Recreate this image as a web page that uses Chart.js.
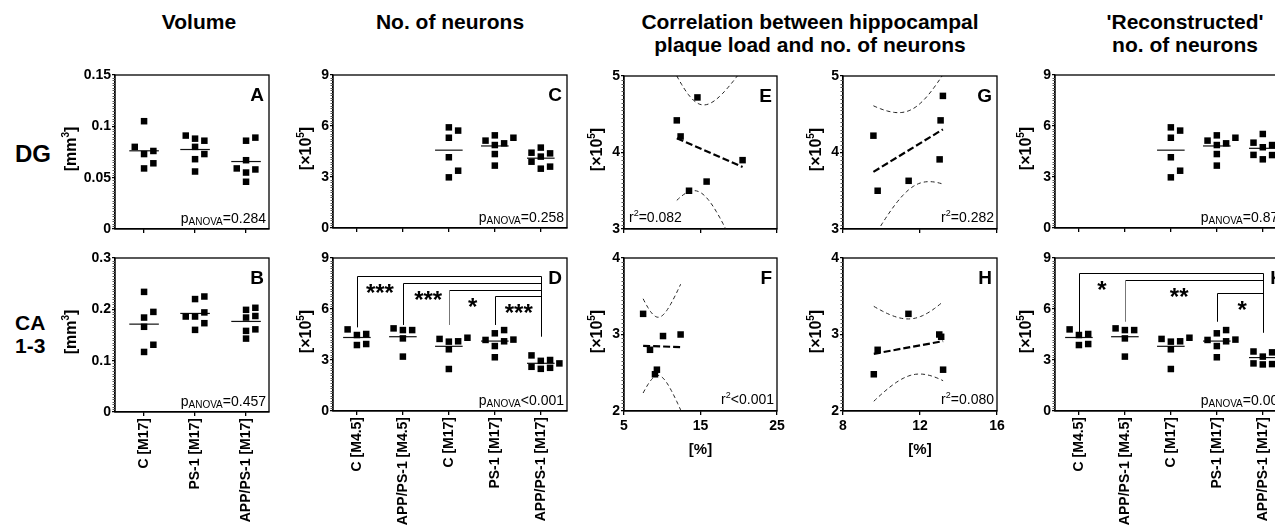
<!DOCTYPE html>
<html><head><meta charset="utf-8">
<script src="https://cdn.jsdelivr.net/npm/chart.js@4/dist/chart.umd.min.js"></script>
<style>
html,body{margin:0;padding:0;width:1275px;height:531px;overflow:hidden;background:#fff;font-family:"Liberation Sans",Arial,Helvetica,sans-serif;}
.t{position:absolute;font-weight:bold;color:#000;white-space:nowrap;}
.ct{text-align:center;width:360px;font-size:21px;line-height:23px;}
canvas{position:absolute;}
</style></head><body>
<div class="t ct" style="left:19px;top:10px;">Volume</div>
<div class="t ct" style="left:270px;top:10px;">No. of neurons</div>
<div class="t ct" style="left:630px;top:10px;">Correlation between hippocampal<br>plaque load and no. of neurons</div>
<div class="t ct" style="left:1005px;top:10px;">'Reconstructed'<br>no. of neurons</div>
<div class="t" style="left:15px;top:142px;font-size:24px;line-height:24px;">DG</div>
<div class="t" style="left:15px;top:311px;font-size:21px;line-height:23px;">CA<br>1-3</div>
<script>
const FAM = '"Liberation Sans", Arial, Helvetica, sans-serif';

// ---------------- data ----------------
const catsVolume  = ['C [M17]', 'PS-1 [M17]', 'APP/PS-1 [M17]'];
const catsNeurons = ['C [M4.5]', 'APP/PS-1 [M4.5]', 'C [M17]', 'PS-1 [M17]', 'APP/PS-1 [M17]'];

const volDG_C_M17   = [0.105, 0.080, 0.076, 0.073, 0.064, 0.059];
const volDG_PS1_M17 = [0.091, 0.088, 0.086, 0.080, 0.073, 0.068, 0.056];
const volDG_APP_M17 = [0.089, 0.086, 0.067, 0.059, 0.058, 0.055, 0.046];

const volCA_C_M17   = [0.234, 0.195, 0.184, 0.166, 0.131, 0.117];
const volCA_PS1_M17 = [0.225, 0.220, 0.194, 0.186, 0.186, 0.173, 0.160];
const volCA_APP_M17 = [0.203, 0.199, 0.187, 0.184, 0.161, 0.158, 0.143];

const neuDG_C_M17   = [5.92, 5.73, 5.31, 4.16, 3.37, 2.98];
const neuDG_PS1_M17 = [5.45, 5.31, 5.14, 4.98, 4.88, 4.35, 3.67];
const neuDG_APP_M17 = [4.73, 4.43, 4.39, 4.20, 3.90, 3.61, 3.49];

const neuCA_C_M45   = [4.80, 4.53, 4.47, 3.94, 3.88];
const neuCA_APP_M45 = [4.86, 4.76, 4.76, 4.27, 3.20];
const neuCA_C_M17   = [4.31, 4.24, 4.10, 4.08, 3.63, 2.47];
const neuCA_PS1_M17 = [4.76, 4.57, 4.20, 4.18, 4.10, 3.82, 3.16];
const neuCA_APP_M17 = [3.27, 3.00, 2.95, 2.80, 2.60, 2.54, 2.48];

const recDG_APP_M17 = [5.53, 5.02, 4.88, 4.75, 4.30, 4.29, 4.04];
const recCA_APP_M17 = [3.55, 3.50, 3.45, 3.20, 2.80, 2.76, 2.74];

const plaqueE = [14.6, 11.9, 12.4, 20.5, 15.8, 13.5];
const neuronsE = [4.72, 4.42, 4.21, 3.90, 3.62, 3.50];
const plaqueF = [7.5, 10.1, 12.4, 8.4, 9.3, 9.05];
const neuronsF = [3.27, 2.98, 3.00, 2.80, 2.54, 2.48];
const plaqueG = [13.19, 13.07, 9.58, 13.02, 11.41, 9.80];
const neuronsG = [4.74, 4.42, 4.22, 3.91, 3.63, 3.50];
const plaqueH = [11.4, 13.0, 13.1, 9.8, 13.2, 9.6];
const neuronsH = [3.27, 3.00, 2.97, 2.80, 2.54, 2.48];

const ticksVolDG = [0, 0.05, 0.1, 0.15];
const ticksVolCA = [0, 0.1, 0.2, 0.3];
const ticksNeu = [0, 3, 6, 9];
const ticksCorrDG = [3, 4, 5];
const ticksCorrCA = [2, 3, 4];
const ticksPlaqueEF = [5, 15, 25];
const ticksPlaqueGH = [8, 12, 16];

const pVolDG = '=0.284', pVolCA = '=0.457', pNeuDG = '=0.258', pNeuCA = '<0.001', pRecDG = '=0.874', pRecCA = '=0.004';
const r2E = '=0.082', r2F = '<0.001', r2G = '=0.282', r2H = '=0.080';

// significance brackets (group a vs group b, bracket level, drop ends, stars)
const sigD = [
  {a:1, b:5, y:7.94, da:4.92, db:4.37, star:'***', sx:1.5},
  {a:2, b:5, y:7.55, da:5.06, star:'***', sx:2.55},
  {a:3, b:5, y:7.12, da:5.06, star:'*', sx:3.52, dim:true},
  {a:4, b:5, y:6.76, da:5.06, star:'***', sx:4.52}
];
const sigK = [
  {a:1, b:5, y:8.1, da:4.47, db:4.6, star:'*', sx:1.5},
  {a:2, b:5, y:7.7, da:5.25, star:'**', sx:3.18, dim:true},
  {a:4, b:5, y:6.96, da:5.25, star:'*', sx:4.55}
];

// ---------------- helpers ----------------
function mean(a){ return a.reduce((s,v)=>s+v,0)/a.length; }

function swarm(vals, center, slot, thr){
  const order = vals.map((v,i)=>i).sort((a,b)=>vals[a]-vals[b]);
  const placed = [], out = new Array(vals.length);
  const cand = [0,1,-1,2,-2,3,-3];
  for (const i of order){
    for (const k of cand){
      if (placed.every(p => p.k !== k || Math.abs(p.v - vals[i]) >= thr)){
        placed.push({k, v:vals[i]}); out[i] = {x:center + k*slot, y:vals[i]}; break;
      }
    }
  }
  return out;
}

function groupSets(groups, slot, thr, half){
  const ds = [];
  groups.forEach((g, i) => {
    if (!g) return;
    const c = i + 1, m = mean(g);
    ds.push({data:[{x:c-half,y:m},{x:c+half,y:m}], showLine:true, borderColor:'#111', borderWidth:1.2, pointRadius:0, order:2});
    ds.push({data:swarm(g, c, slot, thr), pointStyle:'rect', pointRadius:4.6, backgroundColor:'#000', borderWidth:0, showLine:false, order:1});
  });
  return ds;
}

const T975 = {1:12.706, 2:4.303, 3:3.182, 4:2.776, 5:2.571, 6:2.447, 7:2.365, 8:2.306};
function regSets(xs, ys){
  const n = xs.length, mx = mean(xs), my = mean(ys);
  let sxx=0, sxy=0, syy=0;
  for (let i=0;i<n;i++){ sxx+=(xs[i]-mx)**2; sxy+=(xs[i]-mx)*(ys[i]-my); syy+=(ys[i]-my)**2; }
  const b = sxy/sxx, a = my - b*mx;
  const s = Math.sqrt(Math.max(0,(syy - sxy*sxy/sxx))/(n-2)), t = T975[n-2];
  const x0 = Math.min(...xs), x1 = Math.max(...xs);
  const up = [], lo = [];
  for (let k=0;k<=40;k++){
    const x = x0 + (x1-x0)*k/40, h = t*s*Math.sqrt(1/n + (x-mx)**2/sxx);
    up.push({x, y:a+b*x+h}); lo.push({x, y:a+b*x-h});
  }
  const band = {showLine:true, borderColor:'#222', borderWidth:1, borderDash:[4,3], pointRadius:0, order:3};
  return [
    Object.assign({data:up}, band),
    Object.assign({data:lo}, band),
    {data:[{x:x0,y:a+b*x0},{x:x1,y:a+b*x1}], showLine:true, borderColor:'#000', borderWidth:2.2, borderDash:[7,3], pointRadius:0, order:2},
    {data:xs.map((x,i)=>({x, y:ys[i]})), pointStyle:'rect', pointRadius:4.6, backgroundColor:'#000', borderWidth:0, showLine:false, order:1}
  ];
}

function rich(ctx, segs, x, y, align){
  let w = 0;
  segs.forEach(s => { ctx.font = `${s[2]} ${s[1]}px ${FAM}`; s.w = ctx.measureText(s[0]).width; w += s.w; });
  let cx = align === 'right' ? x - w : align === 'center' ? x - w/2 : x;
  ctx.textAlign = 'left'; ctx.textBaseline = 'alphabetic';
  segs.forEach(s => { ctx.font = `${s[2]} ${s[1]}px ${FAM}`; ctx.fillText(s[0], cx, y + s[3]); cx += s.w; });
}

const decorPlugin = {
  id: 'decor',
  afterDraw(chart, args, o){
    const ctx = chart.ctx, ca = chart.chartArea, xs = chart.scales.x, ys = chart.scales.y;
    ctx.save();
    ctx.fillStyle = '#000'; ctx.strokeStyle = '#000';
    // frame
    ctx.lineWidth = 1.3;
    ctx.strokeRect(ca.left, ca.top, ca.right - ca.left, ca.bottom - ca.top);
    // minor ticks on y axis
    const yt = o.yTicks;
    ctx.lineWidth = 1; ctx.strokeStyle = '#555';
    for (let j=0;j<yt.length-1;j++){
      for (let k=1;k<20;k++){
        const py = Math.round(ys.getPixelForValue(yt[j] + (yt[j+1]-yt[j])*k/20)) + 0.5;
        ctx.beginPath(); ctx.moveTo(ca.left - 2.5, py); ctx.lineTo(ca.left, py); ctx.stroke();
      }
    }
    ctx.strokeStyle = '#000';
    // panel letter
    ctx.font = `bold 19px ${FAM}`; ctx.textAlign = 'right'; ctx.textBaseline = 'alphabetic';
    ctx.fillText(o.letter, ca.right - 5, ca.top + 26);
    // p ANOVA
    if (o.p) rich(ctx, [['p',14,'normal',0],['ANOVA',10,'normal',2],[o.p,14,'normal',0]], ca.right - 3, ca.bottom - 6, 'right');
    // r^2
    if (o.r2){
      const segs = [['r',14,'normal',0],['2',9,'normal',-6],[o.r2,14,'normal',0]];
      if (o.r2Left) rich(ctx, segs, ca.left + 5, ca.bottom - 7, 'left');
      else rich(ctx, segs, ca.right - 3, ca.bottom - 7, 'right');
    }
    // y title (rotated)
    if (o.yTitle){
      ctx.save();
      ctx.translate(ca.left - o.yGap, (ca.top + ca.bottom)/2 - 3);
      ctx.rotate(-Math.PI/2);
      rich(ctx, o.yTitle, 0, 6, 'center');
      ctx.restore();
    }
    // x title
    if (o.xTitle){
      ctx.font = `bold 15px ${FAM}`; ctx.textAlign = 'center'; ctx.textBaseline = 'alphabetic';
      ctx.fillText(o.xTitle, (ca.left + ca.right)/2, ca.bottom + 43);
    }
    // significance brackets
    if (o.sig){
      ctx.lineWidth = 1;
      let topY = Infinity, bx = null, db = null;
      o.sig.forEach(s => {
        const xa = Math.round(xs.getPixelForValue(s.a)) + 0.5, xb = Math.round(xs.getPixelForValue(s.b)) + 0.5;
        const py = Math.round(ys.getPixelForValue(s.y)) + 0.5;
        ctx.strokeStyle = '#000';
        ctx.beginPath(); ctx.moveTo(xa, py); ctx.lineTo(xb, py); ctx.stroke();
        ctx.strokeStyle = s.dim ? '#777' : '#000';
        ctx.beginPath(); ctx.moveTo(xa, py); ctx.lineTo(xa, ys.getPixelForValue(s.da)); ctx.stroke();
        if (py < topY) topY = py;
        bx = xb; if (s.db !== undefined) db = s.db;
        ctx.font = `bold 24px ${FAM}`; ctx.textAlign = 'center'; ctx.textBaseline = 'alphabetic'; ctx.fillStyle = '#000';
        ctx.fillText(s.star, xs.getPixelForValue(s.sx), py + 24);
      });
      ctx.strokeStyle = '#000';
      ctx.beginPath(); ctx.moveTo(bx, topY); ctx.lineTo(bx, ys.getPixelForValue(db)); ctx.stroke();
    }
    ctx.restore();
  }
};

function buildPanel(p){
  const [L,T,R,B] = p.rect;
  const W = (R-L) + p.padL + p.padR, H = (B-T) + p.padT + p.padB;
  const cv = document.createElement('canvas');
  cv.width = W; cv.height = H;
  Object.assign(cv.style, {left:(L-p.padL)+'px', top:(T-p.padT)+'px', width:W+'px', height:H+'px'});
  document.body.appendChild(cv);
  const tickFont = {family:FAM, size:14, weight:'bold'};
  const yT = p.yTicks;
  p.decor.yTicks = yT;
  return new Chart(cv.getContext('2d'), {
    type:'scatter',
    data:{datasets:p.datasets},
    options:{
      responsive:false, maintainAspectRatio:false, animation:false, devicePixelRatio:1, events:[],
      layout:{padding:{left:0, top:p.padT, right:p.padR, bottom:0}},
      plugins:{legend:{display:false}, tooltip:{enabled:false}, decor:p.decor},
      scales:{
        x:{type:'linear', min:p.xMin, max:p.xMax,
          afterBuildTicks:s => { s.ticks = p.xTicks.map(v => ({value:v})); },
          afterFit:s => { s.height = p.padB; s.paddingLeft = 0; s.paddingRight = 0; },
          grid:{display:true, drawOnChartArea:false, drawTicks:true, tickLength:4, color:'#000', tickColor:'#000', lineWidth:1.3},
          border:{display:true, color:'#000', width:1.3},
          ticks:{autoSkip:false, minRotation:p.xRot, maxRotation:p.xRot, padding:p.xPad, color:'#000', font:tickFont,
                 callback:(v,i) => p.xLabel(v,i)}
        },
        y:{type:'linear', min:yT[0], max:yT[yT.length-1],
          afterBuildTicks:s => { s.ticks = yT.map(v => ({value:v})); },
          afterFit:s => { s.width = p.padL; s.paddingTop = 0; s.paddingBottom = 0; },
          grid:{display:true, drawOnChartArea:false, drawTicks:true, tickLength:3, color:'#000', tickColor:'#000', lineWidth:1.3},
          border:{display:true, color:'#000', width:1.3},
          ticks:{autoSkip:false, padding:1, color:'#000', font:tickFont, callback:v => String(v)}
        }
      }
    },
    plugins:[decorPlugin]
  });
}

const noLabel = () => '';
const mm3 = [['[mm',16,'bold',0],['3',10,'bold',-7],[']',16,'bold',0]];
const x105 = [['[\u00d710',16,'bold',0],['5',10,'bold',-7],[']',16,'bold',0]];
const TOPB = 20, BOTB = 121;

// swarm parameters in axis units (slot ~9px, overlap threshold ~7.5px)
const volSlot = 9.3/51, neuSlot = 9.3/46;

// A
buildPanel({rect:[115,75,269,229], padL:60, padR:8, padT:12, padB:TOPB, xMin:0.43, xMax:3.45, xTicks:[1,2,3], xRot:0, xPad:2, xLabel:noLabel,
  yTicks:ticksVolDG,
  datasets:groupSets([volDG_C_M17, volDG_PS1_M17, volDG_APP_M17], volSlot, 7.5*0.15/154, 0.29),
  decor:{letter:'A', p:pVolDG, yTitle:mm3, yGap:45}});
// B
buildPanel({rect:[115,258,269,412], padL:60, padR:8, padT:12, padB:BOTB-1, xMin:0.43, xMax:3.45, xTicks:[1,2,3], xRot:90, xPad:2, xLabel:v => catsVolume[v-1],
  yTicks:ticksVolCA,
  datasets:groupSets([volCA_C_M17, volCA_PS1_M17, volCA_APP_M17], volSlot, 7.5*0.3/154, 0.29),
  decor:{letter:'B', p:pVolCA, yTitle:mm3, yGap:45}});
// C
buildPanel({rect:[333,75,567,228], padL:50, padR:8, padT:12, padB:TOPB, xMin:0.48, xMax:5.57, xTicks:[1,2,3,4,5], xRot:0, xPad:2, xLabel:noLabel,
  yTicks:ticksNeu,
  datasets:groupSets([null, null, neuDG_C_M17, neuDG_PS1_M17, neuDG_APP_M17], neuSlot, 7.5*9/153, 0.3),
  decor:{letter:'C', p:pNeuDG, yTitle:x105, yGap:28}});
// D
buildPanel({rect:[333,258,567,411], padL:50, padR:8, padT:12, padB:BOTB, xMin:0.48, xMax:5.57, xTicks:[1,2,3,4,5], xRot:90, xPad:2, xLabel:v => catsNeurons[v-1],
  yTicks:ticksNeu,
  datasets:groupSets([neuCA_C_M45, neuCA_APP_M45, neuCA_C_M17, neuCA_PS1_M17, neuCA_APP_M17], neuSlot, 7.5*9/153, 0.3),
  decor:{letter:'D', p:pNeuCA, yTitle:x105, yGap:28, sig:sigD}});
// E
buildPanel({rect:[624,76,777,229], padL:45, padR:10, padT:12, padB:TOPB, xMin:5, xMax:25, xTicks:ticksPlaqueEF, xRot:0, xPad:3, xLabel:noLabel,
  yTicks:ticksCorrDG, datasets:regSets(plaqueE, neuronsE),
  decor:{letter:'E', r2:r2E, r2Left:true, yTitle:x105, yGap:28}});
// F
buildPanel({rect:[624,258,777,411], padL:45, padR:10, padT:12, padB:BOTB, xMin:5, xMax:25, xTicks:ticksPlaqueEF, xRot:0, xPad:3, xLabel:v => String(v),
  yTicks:ticksCorrCA, datasets:regSets(plaqueF, neuronsF),
  decor:{letter:'F', r2:r2F, yTitle:x105, yGap:28, xTitle:'[%]'}});
// G
buildPanel({rect:[843,76,997,229], padL:45, padR:10, padT:12, padB:TOPB, xMin:8, xMax:16, xTicks:ticksPlaqueGH, xRot:0, xPad:3, xLabel:noLabel,
  yTicks:ticksCorrDG, datasets:regSets(plaqueG, neuronsG),
  decor:{letter:'G', r2:r2G, yTitle:x105, yGap:28}});
// H
buildPanel({rect:[843,258,997,411], padL:45, padR:10, padT:12, padB:BOTB, xMin:8, xMax:16, xTicks:ticksPlaqueGH, xRot:0, xPad:3, xLabel:v => String(v),
  yTicks:ticksCorrCA, datasets:regSets(plaqueH, neuronsH),
  decor:{letter:'H', r2:r2H, yTitle:x105, yGap:28, xTitle:'[%]'}});
// I
buildPanel({rect:[1055,75,1289,228], padL:50, padR:8, padT:12, padB:TOPB, xMin:0.48, xMax:5.57, xTicks:[1,2,3,4,5], xRot:0, xPad:2, xLabel:noLabel,
  yTicks:ticksNeu,
  datasets:groupSets([null, null, neuDG_C_M17, neuDG_PS1_M17, recDG_APP_M17], neuSlot, 7.5*9/153, 0.3),
  decor:{letter:'I', p:pRecDG, yTitle:x105, yGap:30}});
// K
buildPanel({rect:[1055,258,1289,411], padL:50, padR:8, padT:12, padB:BOTB, xMin:0.48, xMax:5.57, xTicks:[1,2,3,4,5], xRot:90, xPad:2, xLabel:v => catsNeurons[v-1],
  yTicks:ticksNeu,
  datasets:groupSets([neuCA_C_M45, neuCA_APP_M45, neuCA_C_M17, neuCA_PS1_M17, recCA_APP_M17], neuSlot, 7.5*9/153, 0.3),
  decor:{letter:'K', p:pRecCA, yTitle:x105, yGap:30, sig:sigK}});
</script>
</body></html>
